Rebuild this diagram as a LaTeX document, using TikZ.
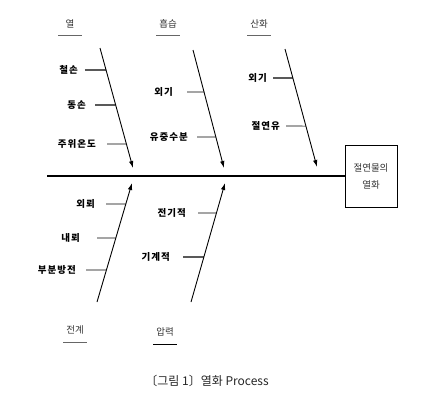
\documentclass[tikz,border=0pt]{standalone}
\usepackage{fontspec}
\setmainfont{Noto Sans CJK KR}
\newfontfamily\causefont[LetterSpace=10]{Noto Sans CJK KR}
\usetikzlibrary{arrows.meta,calc}
\begin{document}
\begin{tikzpicture}[x=1pt,y=-1pt,
  bone/.style={line width=0.9pt,-{Latex[length=7pt,width=4.5pt]}},
  thintick/.style={line width=0.6pt},
  heavytick/.style={line width=1.1pt},
  cause/.style={font=\causefont\bfseries\fontsize{9.5}{11}\selectfont,inner sep=0pt,anchor=east},
  head/.style={font=\fontsize{9.5}{11}\selectfont,text=black!80,inner sep=1pt},
  headline/.style={fill=black!60}]
\useasboundingbox (0,0) rectangle (423,400);

% spine and effect box
\node[draw,line width=1pt,minimum width=52,minimum height=62,align=center,
  font=\fontsize{9.5}{11}\selectfont,text=black!80] (effect) at (371,176.5) {절연물의\\[6pt]열화};
\coordinate (tail) at (47,176);
\draw[line width=1.1pt] (tail) -- (tail -| effect.west);

% upper bones
\coordinate (heatS) at (100,48);  \coordinate (heatE) at (133,168);
\coordinate (moistS) at (193,50); \coordinate (moistE) at (224,168);
\coordinate (oxS) at (285,49);    \coordinate (oxE) at (317,167);
\draw[bone] (heatS) -- (heatE);
\draw[bone] (moistS) -- (moistE);
\draw[bone] (oxS) -- (oxE);

\node[head] (heat) at (70,24) {열};
\fill[headline] (58,34.5) rectangle (82,36);
\node[head] (moist) at (168,24) {흡습};
\fill[headline] (156,34.5) rectangle (180,36);
\node[head] (ox) at (259,24) {산화};
\fill[headline] (247,34.5) rectangle (271,36);

% causes: heat
\node[cause] (iron) at (78,70) {철손};
\draw[heavytick] ([xshift=7]iron.east) -- ($(heatS)!0.183!(heatE)$);
\node[cause] (copper) at (86,105) {동손};
\draw[heavytick] ([xshift=9]copper.east) -- ($(heatS)!0.475!(heatE)$);
\node[cause] (ambient) at (96,144) {주위온도};
\draw[line width=0.8pt] ([xshift=11]ambient.east) -- ($(heatS)!0.8!(heatE)$);

% causes: moisture
\node[cause] (air) at (173,92) {외기};
\draw[thintick] ([xshift=14]air.east) -- ($(moistS)!0.356!(moistE)$);
\node[cause] (water) at (188,137) {유중수분};
\draw[thintick] ([xshift=9]water.east) -- ($(moistS)!0.737!(moistE)$);

% causes: oxidation
\node[cause] (air2) at (267,78) {외기};
\draw[heavytick] ([xshift=6]air2.east) -- ($(oxS)!0.246!(oxE)$);
\node[cause] (oil) at (280,126) {절연유};
\draw[thintick] ([xshift=6]oil.east) -- ($(oxS)!0.653!(oxE)$);

% lower bones
\coordinate (fieldS) at (97,302); \coordinate (fieldE) at (132,183);
\coordinate (pressS) at (191,302); \coordinate (pressE) at (225,183);
\draw[bone] (fieldS) -- (fieldE);
\draw[bone] (pressS) -- (pressE);

\node[head] (field) at (75,330) {전계};
\fill[headline] (63,341.5) rectangle (87,343);
\node[head] (press) at (165,332) {압력};
\fill[headline,fill=black] (153,343.5) rectangle (177,345);

% causes: field
\node[cause] (ext) at (95,204) {외뢰};
\draw[thintick] ([xshift=11]ext.east) -- ($(fieldS)!0.824!(fieldE)$);
\node[cause] (int) at (80,238) {내뢰};
\draw[thintick] ([xshift=17]int.east) -- ($(fieldS)!0.538!(fieldE)$);
\node[cause] (pd) at (76,270) {부분방전};
\draw[thintick] ([xshift=10]pd.east) -- ($(fieldS)!0.269!(fieldE)$);

% causes: pressure
\node[cause] (elec) at (186,213) {전기적};
\draw[thintick] ([xshift=12]elec.east) -- ($(pressS)!0.748!(pressE)$);
\node[cause] (mech) at (170,257) {기계적};
\draw[line width=1.4pt] ([xshift=13]mech.east) -- ($(pressS)!0.378!(pressE)$);

% caption
\node[font=\fontsize{12}{14}\selectfont,text=black!85] (caption) at (207,381) {〔그림 1〕열화 Process};
\end{tikzpicture}
\end{document}
